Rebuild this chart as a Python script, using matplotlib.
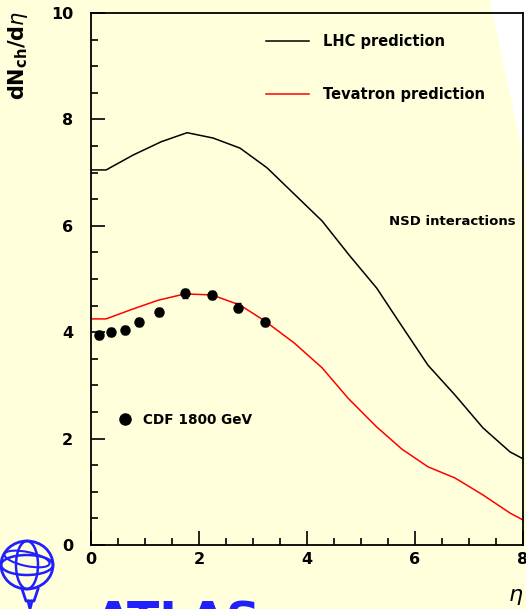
import numpy as np
import matplotlib.pyplot as plt
from matplotlib.lines import Line2D
from matplotlib.patches import Polygon, Ellipse

# LHC prediction (black)
eta_lhc = [0.0, 0.28, 0.78, 1.30, 1.78, 2.26, 2.76, 3.26, 3.76, 4.28, 4.78, 5.29, 5.72, 6.24, 6.74, 7.26, 7.76, 8.0]
dn_lhc = [7.05, 7.05, 7.33, 7.58, 7.75, 7.65, 7.46, 7.09, 6.60, 6.09, 5.45, 4.83, 4.17, 3.38, 2.82, 2.20, 1.75, 1.62]

# Tevatron prediction (red)
eta_tev = [0.0, 0.28, 0.76, 1.24, 1.74, 2.24, 2.76, 3.22, 3.76, 4.28, 4.76, 5.29, 5.76, 6.24, 6.74, 7.26, 7.76, 8.0]
dn_tev = [4.25, 4.25, 4.43, 4.60, 4.72, 4.70, 4.51, 4.21, 3.80, 3.33, 2.76, 2.22, 1.80, 1.47, 1.26, 0.94, 0.60, 0.47]

# CDF 1800 GeV data
eta_cdf = [0.15, 0.37, 0.63, 0.89, 1.26, 1.74, 2.24, 2.72, 3.22]
dn_cdf = [3.95, 4.00, 4.04, 4.19, 4.38, 4.73, 4.70, 4.46, 4.19]
err_cdf = [0.08, 0.08, 0.08, 0.08, 0.08, 0.08, 0.08, 0.08, 0.08]

bg = '#ffffdc'
W, H = 526, 609

fig = plt.figure(figsize=(5.26, 6.09), dpi=100, facecolor=bg)

# white corner at the top right
fig.patches.append(Polygon([(490 / W, 1.0), (1.0, 1.0), (1.0, 1 - 170 / H)],
                           closed=True, transform=fig.transFigure,
                           facecolor='white', edgecolor='none', zorder=-5))

ax = fig.add_axes([91 / W, 1 - 545 / H, 432 / W, 532 / H])
ax.set_facecolor('none')

ax.plot(eta_lhc, dn_lhc, color='black', lw=1.1)
ax.plot(eta_tev, dn_tev, color='red', lw=1.1)
ax.errorbar(eta_cdf, dn_cdf, yerr=err_cdf, fmt='o', color='black', ms=6.5,
            elinewidth=1, capsize=2.5, capthick=1)

ax.set_xlim(0, 8)
ax.set_ylim(0, 10)
ax.set_xticks([0, 2, 4, 6, 8])
ax.set_yticks([0, 2, 4, 6, 8, 10])
ax.set_xticks(np.arange(0, 8.01, 0.5), minor=True)
ax.set_yticks(np.arange(0, 10.01, 0.5), minor=True)
ax.tick_params(which='both', direction='in', top=False, right=False, width=1.2)
ax.tick_params(which='major', length=10, labelsize=11.5)
ax.tick_params(axis='x', which='major', pad=5)
ax.tick_params(axis='y', which='major', pad=13)
ax.tick_params(which='minor', length=5)
for lab in ax.get_xticklabels() + ax.get_yticklabels():
    lab.set_fontweight('bold')
for sp in ax.spines.values():
    sp.set_linewidth(1.3)

leg1 = ax.legend([Line2D([], [], color='black', lw=1.1), Line2D([], [], color='red', lw=1.1)],
                 ['LHC prediction', 'Tevatron prediction'],
                 loc='upper left', bbox_to_anchor=(0.374, 0.985), frameon=False,
                 handlelength=3.0, handletextpad=0.9, labelspacing=2.6,
                 prop={'weight': 'bold', 'size': 10.5})
ax.add_artist(leg1)
ax.legend([Line2D([], [], color='black', marker='o', ls='none', ms=8)], ['CDF 1800 GeV'],
          loc='center left', bbox_to_anchor=(0.035, 0.235), frameon=False,
          handlelength=1.0, handletextpad=0.8, prop={'weight': 'bold', 'size': 9.8})

ax.text(5.52, 6.09, 'NSD interactions', ha='left', va='center',
        fontsize=9.5, fontweight='bold')

fig.text(18 / W, 1 - 55 / H, r'dN$_{\mathbf{ch}}$/d$\eta$', rotation=90,
         ha='center', va='center', fontsize=15, fontweight='bold')
fig.text(516 / W, 1 - 597 / H, r'$\eta$', ha='center', va='center', fontsize=16)

# ATLAS logo (rough) in the lower left corner
logo = fig.add_axes([0, 0, 60 / W, 95 / H])
logo.set_xlim(0, 60)
logo.set_ylim(0, 95)
logo.axis('off')
blue = '#2020ff'
logo.add_patch(Ellipse((27, 44), 52, 48, fill=False, ec=blue, lw=2))
logo.add_patch(Ellipse((27, 44), 52, 20, fill=False, ec=blue, lw=1.8))
logo.add_patch(Ellipse((27, 44), 22, 48, fill=False, ec=blue, lw=1.8))
logo.add_patch(Ellipse((27, 50), 46, 14, angle=-12, fill=False, ec=blue, lw=1.5))
logo.plot([22, 26, 34, 38], [20, 8, 8, 20], color=blue, lw=2)
logo.plot([28, 30, 32], [8, 0, 8], color=blue, lw=2)

fig.text(95 / W, -36 / H, 'ATLAS', color=blue, fontsize=34, fontweight='bold',
         ha='left', va='bottom')

fig.savefig('out.png', dpi=100, facecolor=bg)
